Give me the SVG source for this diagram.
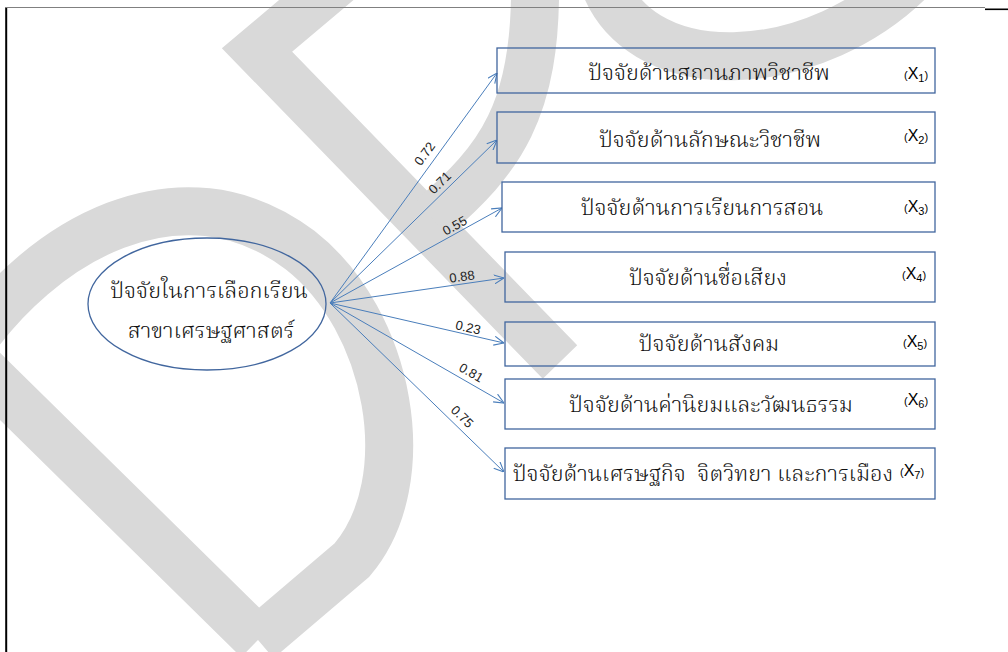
<svg xmlns="http://www.w3.org/2000/svg" width="1008" height="652" viewBox="0 0 1008 652">
<defs>
<marker id="arr" viewBox="0 0 10 10" refX="10" refY="5" markerWidth="10" markerHeight="10" markerUnits="userSpaceOnUse" orient="auto">
<path d="M0,0.5 L10,5 L0,9.5" fill="none" stroke="#4a7ebb" stroke-width="1.1"/>
</marker>
<style>
.wm{fill:none;stroke:#d9d9d9;stroke-width:48;stroke-linejoin:miter;stroke-miterlimit:10}
.box{fill:none;stroke:#41669e;stroke-width:1.3}
.th{font-family:"Noto Serif Thai","Norasi","Kinnari","TH Sarabun New","Garuda","Noto Sans Thai","Liberation Serif",serif;font-size:22px;font-weight:300;fill:#111;text-anchor:middle}
.xl{font-family:"Liberation Sans",Arial,sans-serif;fill:#000}
.num{font-family:"Liberation Sans",Arial,sans-serif;font-size:13px;fill:#222;text-anchor:middle}
.con{stroke:#4a7ebb;stroke-width:1;fill:none;marker-end:url(#arr)}
</style>
</defs>
<rect width="1008" height="652" fill="#fff"/>
<g id="watermark">
<path class="wm" d="M258,640 L-35,352 C40,240 180,160 300,250 C390,320 420,480 352,560 L258,640"/>
<path class="wm" d="M560,362 L257,50 L340,-20"/>
<path class="wm" d="M535,-20 C537,110 500,160 432,218"/>
<path class="wm" d="M600,-30 C630,90 820,80 920,-30"/>
</g>
<g id="frame">
<line x1="5" y1="7.5" x2="985" y2="7.5" stroke="#808080" stroke-width="1"/>
<line x1="985" y1="9.3" x2="1008" y2="9.3" stroke="#000" stroke-width="1.6"/>
<line x1="6.2" y1="8" x2="6.2" y2="652" stroke="#000" stroke-width="2"/>
</g>
<g id="connectors">
<line class="con" x1="330" y1="303" x2="497" y2="73"/>
<line class="con" x1="330" y1="303" x2="497" y2="140"/>
<line class="con" x1="330" y1="303" x2="502" y2="208"/>
<line class="con" x1="330" y1="303" x2="504" y2="278"/>
<line class="con" x1="330" y1="303" x2="504" y2="343"/>
<line class="con" x1="330" y1="303" x2="504" y2="403"/>
<line class="con" x1="330" y1="303" x2="504" y2="472"/>
<text class="num" transform="translate(425,154) rotate(-54)" dy="4">0.72</text>
<text class="num" transform="translate(440,183) rotate(-44)" dy="4">0.71</text>
<text class="num" transform="translate(455,226) rotate(-29)" dy="4">0.55</text>
<text class="num" transform="translate(462,277) rotate(-8)" dy="4">0.88</text>
<text class="num" transform="translate(468,328) rotate(13)" dy="4">0.23</text>
<text class="num" transform="translate(471,373) rotate(30)" dy="4">0.81</text>
<text class="num" transform="translate(462,417) rotate(44)" dy="4">0.75</text>
</g>
<g id="latent">
<ellipse class="box" cx="207" cy="304" rx="119" ry="66"/>
<text class="th" x="209" y="298">ปัจจัยในการเลือกเรียน</text>
<text class="th" x="211" y="338">สาขาเศรษฐศาสตร์</text>
</g>
<g id="x1">
<rect class="box" x="497" y="48" width="438" height="45"/>
<text class="th" x="709" y="80">ปัจจัยด้านสถานภาพวิชาชีพ</text>
<text class="xl" x="904" y="79"><tspan font-size="11">(</tspan><tspan font-size="16">X</tspan><tspan font-size="11" dy="3">1</tspan><tspan font-size="11" dy="-3">)</tspan></text>
</g>
<g id="x2">
<rect class="box" x="497" y="112" width="438" height="51"/>
<text class="th" x="710" y="147">ปัจจัยด้านลักษณะวิชาชีพ</text>
<text class="xl" x="904" y="141"><tspan font-size="11">(</tspan><tspan font-size="16">X</tspan><tspan font-size="11" dy="3">2</tspan><tspan font-size="11" dy="-3">)</tspan></text>
</g>
<g id="x3">
<rect class="box" x="502" y="182" width="433" height="50"/>
<text class="th" x="702" y="215">ปัจจัยด้านการเรียนการสอน</text>
<text class="xl" x="904" y="212"><tspan font-size="11">(</tspan><tspan font-size="16">X</tspan><tspan font-size="11" dy="3">3</tspan><tspan font-size="11" dy="-3">)</tspan></text>
</g>
<g id="x4">
<rect class="box" x="505" y="252" width="430" height="50"/>
<text class="th" x="708" y="285">ปัจจัยด้านชื่อเสียง</text>
<text class="xl" x="902" y="279"><tspan font-size="11">(</tspan><tspan font-size="16">X</tspan><tspan font-size="11" dy="3">4</tspan><tspan font-size="11" dy="-3">)</tspan></text>
</g>
<g id="x5">
<rect class="box" x="505" y="322" width="430" height="44"/>
<text class="th" x="709" y="351">ปัจจัยด้านสังคม</text>
<text class="xl" x="903" y="347"><tspan font-size="11">(</tspan><tspan font-size="16">X</tspan><tspan font-size="11" dy="3">5</tspan><tspan font-size="11" dy="-3">)</tspan></text>
</g>
<g id="x6">
<rect class="box" x="505" y="379" width="430" height="50"/>
<text class="th" x="711" y="412">ปัจจัยด้านค่านิยมและวัฒนธรรม</text>
<text class="xl" x="904" y="405"><tspan font-size="11">(</tspan><tspan font-size="16">X</tspan><tspan font-size="11" dy="3">6</tspan><tspan font-size="11" dy="-3">)</tspan></text>
</g>
<g id="x7">
<rect class="box" x="505" y="448" width="430" height="51"/>
<text class="th" x="703" y="481" xml:space="preserve">ปัจจัยด้านเศรษฐกิจ  จิตวิทยา และการเมือง</text>
<text class="xl" x="900" y="476"><tspan font-size="11">(</tspan><tspan font-size="16">X</tspan><tspan font-size="11" dy="3">7</tspan><tspan font-size="11" dy="-3">)</tspan></text>
</g>
</svg>
